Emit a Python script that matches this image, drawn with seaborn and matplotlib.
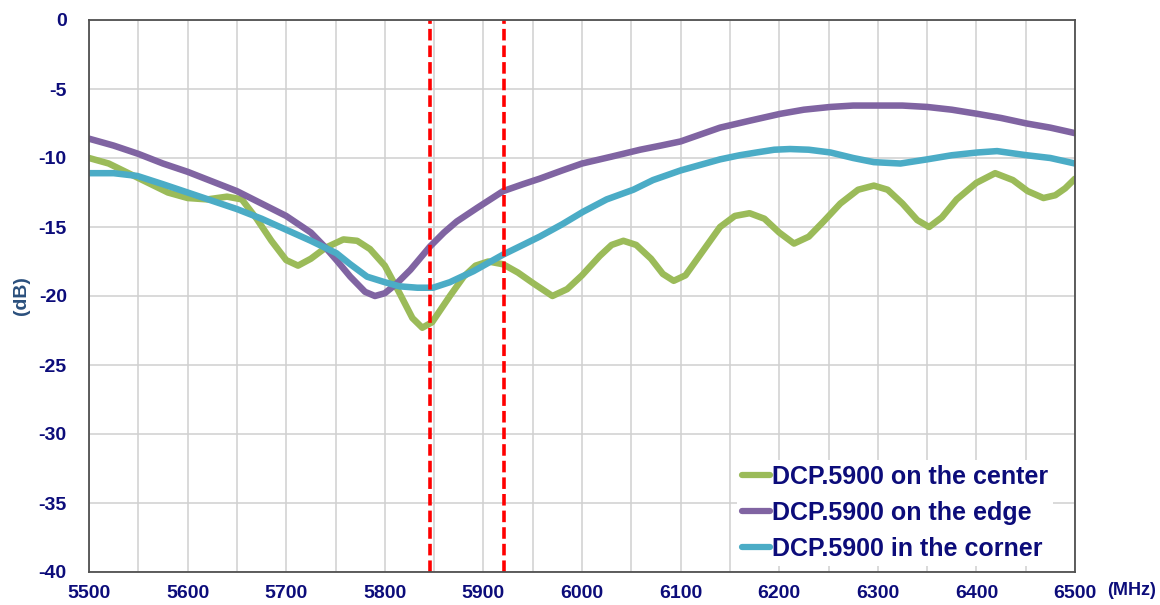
import numpy as np
import pandas as pd
import matplotlib
matplotlib.use('Agg')
import matplotlib.pyplot as plt
import seaborn as sns
from matplotlib.ticker import MultipleLocator

# values (MHz, dB)
center_f = [5500, 5520, 5540, 5560, 5580, 5600, 5620, 5640, 5655, 5670, 5685, 5700, 5712,
            5725, 5740, 5758, 5772, 5785, 5800, 5815, 5828, 5838, 5848, 5866, 5880, 5892,
            5905, 5920, 5935, 5951, 5970, 5985, 6000, 6018, 6030, 6042, 6055, 6070, 6082,
            6093, 6105, 6116, 6128, 6140, 6155, 6170, 6185, 6200, 6215, 6230, 6245, 6262,
            6280, 6296, 6310, 6325, 6340, 6352, 6365, 6380, 6400, 6419, 6437, 6452, 6468,
            6480, 6490, 6500]
center_db = [-10.0, -10.4, -11.1, -11.8, -12.5, -12.9, -13.0, -12.8, -13.0, -14.4, -16.0, -17.4, -17.8,
             -17.3, -16.5, -15.9, -16.0, -16.6, -17.8, -19.8, -21.6, -22.3, -21.9, -20.0, -18.6, -17.8,
             -17.5, -17.7, -18.3, -19.1, -20.0, -19.5, -18.5, -17.1, -16.3, -16.0, -16.3, -17.3, -18.4,
             -18.9, -18.5, -17.4, -16.2, -15.0, -14.2, -14.0, -14.4, -15.4, -16.2, -15.7, -14.6, -13.3,
             -12.3, -12.0, -12.3, -13.3, -14.5, -15.0, -14.3, -13.0, -11.8, -11.1, -11.6, -12.4, -12.9,
             -12.7, -12.2, -11.5]

edge_f = [5500, 5525, 5550, 5575, 5600, 5625, 5650, 5675, 5700, 5725, 5740, 5751, 5765, 5780,
          5790, 5800, 5812, 5826, 5846, 5860, 5873, 5894, 5920, 5940, 5957, 5980, 6000, 6030,
          6059, 6080, 6100, 6120, 6140, 6170, 6201, 6225, 6252, 6275, 6300, 6325, 6350, 6375,
          6401, 6425, 6451, 6475, 6500]
edge_db = [-8.6, -9.1, -9.7, -10.4, -11.0, -11.7, -12.4, -13.3, -14.2, -15.4, -16.5, -17.4, -18.6, -19.7,
           -20.0, -19.8, -19.1, -18.1, -16.4, -15.4, -14.6, -13.6, -12.4, -11.9, -11.5, -10.9, -10.4, -9.9,
           -9.4, -9.1, -8.8, -8.3, -7.8, -7.3, -6.8, -6.5, -6.3, -6.2, -6.2, -6.2, -6.3, -6.5,
           -6.8, -7.1, -7.5, -7.8, -8.2]

corner_f = [5500, 5525, 5549, 5575, 5600, 5625, 5650, 5675, 5700, 5725, 5751, 5765, 5782, 5800,
            5815, 5833, 5849, 5866, 5890, 5905, 5920, 5940, 5957, 5980, 6001, 6025, 6052, 6072,
            6100, 6120, 6140, 6160, 6177, 6195, 6211, 6230, 6252, 6275, 6296, 6323, 6350, 6375,
            6401, 6421, 6451, 6475, 6500]
corner_db = [-11.1, -11.1, -11.3, -11.9, -12.5, -13.1, -13.7, -14.4, -15.2, -16.0, -16.9, -17.7, -18.6, -19.0,
             -19.3, -19.4, -19.4, -19.0, -18.2, -17.6, -17.0, -16.3, -15.7, -14.8, -13.9, -13.0, -12.3, -11.6,
             -10.9, -10.5, -10.1, -9.8, -9.6, -9.4, -9.35, -9.4, -9.6, -10.0, -10.3, -10.4, -10.1, -9.8,
             -9.6, -9.5, -9.8, -10.0, -10.4]

labels = ['DCP.5900 on the center', 'DCP.5900 on the edge', 'DCP.5900 in the corner']
band_edges = [5846, 5921]

df = pd.concat([
    pd.DataFrame({'freq': center_f, 'db': center_db, 'series': labels[0]}),
    pd.DataFrame({'freq': edge_f, 'db': edge_db, 'series': labels[1]}),
    pd.DataFrame({'freq': corner_f, 'db': corner_db, 'series': labels[2]}),
])

sns.set_style('white')
plt.rcParams['font.family'] = ['Liberation Sans', 'DejaVu Sans']
plt.rcParams['axes.unicode_minus'] = False
navy = '#0c0c7a'
palette = {labels[0]: '#9bbb59', labels[1]: '#8064a2', labels[2]: '#4bacc6'}

fig = plt.figure(figsize=(11.6, 6.05), dpi=100)
ax = fig.add_axes([89 / 1160, 1 - 572 / 605, (1075 - 89) / 1160, (572 - 20) / 605])

sns.lineplot(data=df, x='freq', y='db', hue='series', palette=palette, sort=False,
             linewidth=4.7, ax=ax, legend=False, zorder=3)
for ln in ax.lines:
    ln.set_solid_joinstyle('round')
    ln.set_solid_capstyle('round')

for f in band_edges:
    ax.axvline(f, color='#ff0000', linestyle=(0, (3.2, 1.4)), linewidth=2.6, zorder=4)

ax.set_xlim(5500, 6500)
ax.set_ylim(-40, 0)
ax.xaxis.set_major_locator(MultipleLocator(100))
ax.xaxis.set_minor_locator(MultipleLocator(50))
ax.yaxis.set_major_locator(MultipleLocator(5))
ax.grid(True, which='both', color='#d0d0d0', linewidth=1.1, zorder=0)
ax.set_axisbelow(True)
for s in ax.spines.values():
    s.set_color('#505050')
    s.set_linewidth(1.3)
    s.set_zorder(6)
ax.tick_params(axis='both', which='major', direction='in', length=6, color='#404040',
               labelsize=14, labelcolor=navy, pad=9)
ax.tick_params(axis='y', which='major', pad=16)
ax.tick_params(axis='x', which='minor', length=0)
for t in ax.get_xticklabels() + ax.get_yticklabels():
    t.set_fontweight('bold')
ax.set_xlabel('')
ax.set_ylabel('(dB)', fontsize=14, fontweight='bold', color='#2a4f7c', labelpad=6)
ax.text(1.033, -0.033, '(MHz)', transform=ax.transAxes, fontsize=13, fontweight='bold',
        color=navy, ha='left', va='center')

handles = [plt.Line2D([], [], color=palette[l], linewidth=4.5) for l in labels]
leg = ax.legend(handles, labels, loc='lower right', bbox_to_anchor=(0.99, -0.012),
                frameon=True, framealpha=1, edgecolor='none', fancybox=False,
                handlelength=1.15, handletextpad=0.05, labelspacing=0.48, borderpad=0.2,
                prop={'size': 18, 'weight': 'bold'})
leg.set_zorder(5)
for t in leg.get_texts():
    t.set_color(navy)

fig.savefig('out.png', dpi=100)
